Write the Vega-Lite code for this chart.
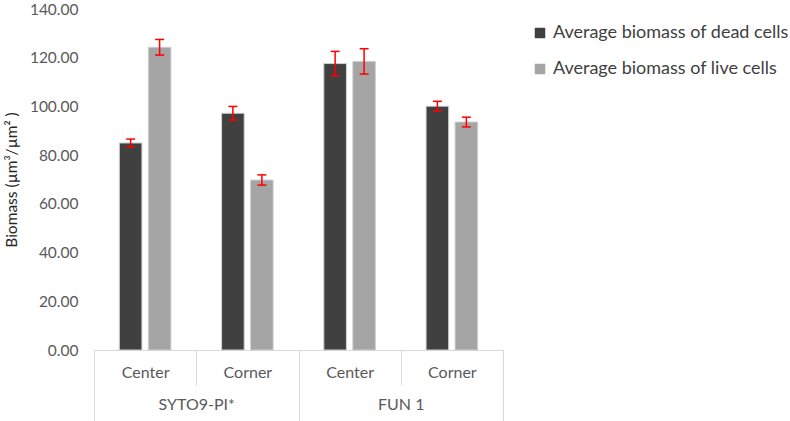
{
  "$schema": "https://vega.github.io/schema/vega-lite/v6.json",
  "width": 409,
  "height": 341,
  "autosize": {"type": "none"},
  "padding": {"left": 94, "top": 9, "right": 287, "bottom": 71},
  "config": {
    "view": {"stroke": null},
    "font": "Lato",
    "axis": {"labelFont": "Lato", "titleFont": "Lato"},
    "legend": {"labelFont": "Lato"}
  },
  "data": {
    "values": [
      {"stain": "SYTO9-PI", "pos": "Center", "key": "SYTO9-PI|Center", "series": "Average biomass of dead cells", "value": 85.0, "lo": 83.4, "hi": 86.6},
      {"stain": "SYTO9-PI", "pos": "Center", "key": "SYTO9-PI|Center", "series": "Average biomass of live cells", "value": 124.3, "lo": 121.1, "hi": 127.5},
      {"stain": "SYTO9-PI", "pos": "Corner", "key": "SYTO9-PI|Corner", "series": "Average biomass of dead cells", "value": 97.2, "lo": 94.4, "hi": 100.0},
      {"stain": "SYTO9-PI", "pos": "Corner", "key": "SYTO9-PI|Corner", "series": "Average biomass of live cells", "value": 69.8, "lo": 67.7, "hi": 71.9},
      {"stain": "FUN 1", "pos": "Center", "key": "FUN 1|Center", "series": "Average biomass of dead cells", "value": 117.6, "lo": 112.6, "hi": 122.6},
      {"stain": "FUN 1", "pos": "Center", "key": "FUN 1|Center", "series": "Average biomass of live cells", "value": 118.5, "lo": 113.3, "hi": 123.7},
      {"stain": "FUN 1", "pos": "Corner", "key": "FUN 1|Corner", "series": "Average biomass of dead cells", "value": 100.1, "lo": 98.1, "hi": 102.1},
      {"stain": "FUN 1", "pos": "Corner", "key": "FUN 1|Corner", "series": "Average biomass of live cells", "value": 93.6, "lo": 91.6, "hi": 95.6}
    ]
  },
  "resolve": {"scale": {"x": "independent"}, "axis": {"x": "independent"}},
  "layer": [
    {
      "layer": [
        {
          "mark": {"type": "bar", "stroke": "#d0d0d0", "strokeWidth": 1},
          "encoding": {
            "x": {
              "field": "key", "type": "nominal", "sort": null,
              "scale": {"paddingInner": 0, "paddingOuter": 0},
              "axis": {
                "orient": "bottom", "title": null,
                "labelExpr": "split(datum.label, '|')[1]",
                "labelAngle": 0, "tickBand": "extent", "tickSize": 35,
                "tickColor": "#d9d9d9", "tickWidth": 1, "domainColor": "#d9d9d9",
                "labelPadding": -21, "labelFontSize": 16, "labelColor": "#595959"
              }
            },
            "xOffset": {
              "field": "series", "type": "nominal", "sort": null,
              "scale": {"paddingInner": 0.22, "paddingOuter": 0.874}
            },
            "y": {
              "field": "value", "type": "quantitative",
              "scale": {"domain": [0, 140], "nice": false},
              "axis": {
                "title": "Biomass (µm³/µm² )", "format": ".2f",
                "values": [0, 20, 40, 60, 80, 100, 120, 140],
                "domain": false, "ticks": false, "grid": false,
                "labelPadding": 16, "labelFontSize": 15.5, "labelColor": "#595959",
                "titleFontSize": 15.5, "titleFontWeight": "normal", "titleColor": "#262626",
                "titlePadding": 10
              }
            },
            "color": {
              "field": "series", "type": "nominal", "sort": null,
              "scale": {"range": ["#404040", "#a5a5a5"]},
              "legend": {
                "title": null, "orient": "none", "legendX": 437, "legendY": 15,
                "padding": 0, "symbolType": "square", "symbolSize": 110,
                "symbolStrokeWidth": 0, "labelFontSize": 18, "labelColor": "#404040",
                "labelLimit": 400, "rowPadding": 18, "labelOffset": 4
              }
            }
          }
        },
        {
          "mark": {"type": "rule", "color": "#ff0000", "strokeWidth": 1.5},
          "encoding": {
            "x": {"field": "key", "type": "nominal", "sort": null},
            "xOffset": {"field": "series", "type": "nominal", "sort": null},
            "y": {"field": "lo", "type": "quantitative"},
            "y2": {"field": "hi"}
          }
        },
        {
          "mark": {"type": "tick", "color": "#ff0000", "thickness": 1.5, "size": 9, "opacity": 1},
          "encoding": {
            "x": {"field": "key", "type": "nominal", "sort": null},
            "xOffset": {"field": "series", "type": "nominal", "sort": null},
            "y": {"field": "lo", "type": "quantitative"}
          }
        },
        {
          "mark": {"type": "tick", "color": "#ff0000", "thickness": 1.5, "size": 9, "opacity": 1},
          "encoding": {
            "x": {"field": "key", "type": "nominal", "sort": null},
            "xOffset": {"field": "series", "type": "nominal", "sort": null},
            "y": {"field": "hi", "type": "quantitative"}
          }
        }
      ]
    },
    {
      "mark": {"type": "rule", "opacity": 0},
      "encoding": {
        "x": {
          "field": "stain", "type": "nominal", "sort": null,
          "scale": {"paddingInner": 0, "paddingOuter": 0},
          "axis": {
            "orient": "bottom", "title": null, "labelAngle": 0,
            "labelExpr": "datum.label == 'SYTO9-PI' ? 'SYTO9-PI*' : datum.label",
            "tickBand": "extent", "tickSize": 71, "tickColor": "#d9d9d9", "tickWidth": 1,
            "domain": false, "labelPadding": -25, "labelFontSize": 16, "labelColor": "#595959"
          }
        }
      }
    }
  ]
}
